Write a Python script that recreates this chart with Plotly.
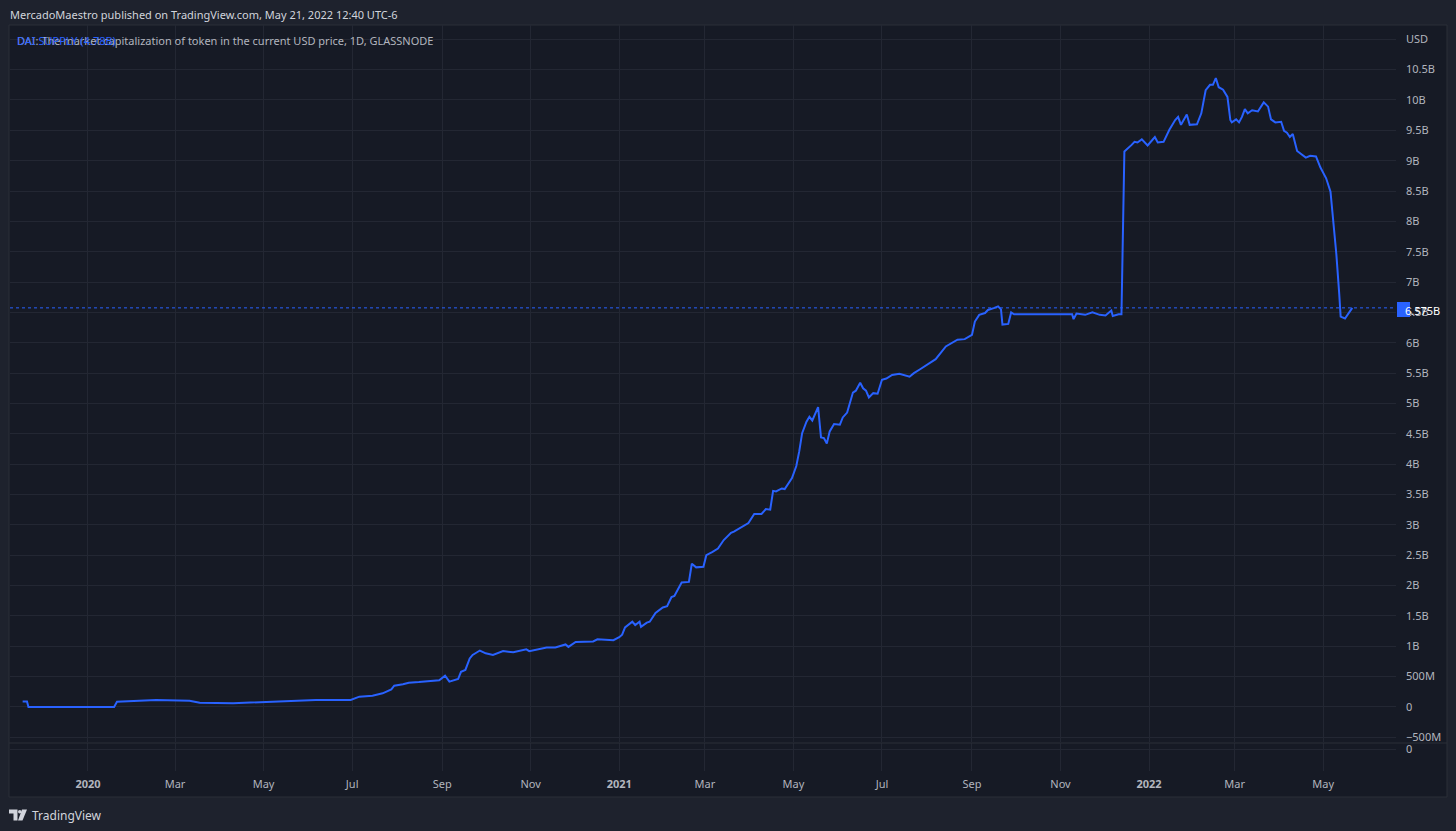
import plotly.graph_objects as go

# DAI supply, USD billions
dates = [
    "2019-11-17", "2019-11-20", "2019-11-21", "2020-01-19", "2020-01-21", "2020-02-01",
    "2020-02-17", "2020-03-11", "2020-03-18", "2020-04-10", "2020-05-03", "2020-06-06",
    "2020-06-30", "2020-07-04", "2020-07-06", "2020-07-15", "2020-07-22", "2020-07-28",
    "2020-07-30", "2020-08-05", "2020-08-09", "2020-08-16", "2020-08-30", "2020-09-03",
    "2020-09-06", "2020-09-12", "2020-09-14", "2020-09-17", "2020-09-20", "2020-09-22",
    "2020-09-27", "2020-10-01", "2020-10-06", "2020-10-13", "2020-10-20", "2020-10-29",
    "2020-10-31", "2020-11-12", "2020-11-18", "2020-11-25", "2020-11-27", "2020-12-02",
    "2020-12-14", "2020-12-17", "2020-12-28",
    "2021-01-01", "2021-01-03", "2021-01-05", "2021-01-10", "2021-01-12", "2021-01-15",
    "2021-01-16", "2021-01-20", "2021-01-22", "2021-01-26", "2021-01-31", "2021-02-03",
    "2021-02-06", "2021-02-08", "2021-02-13", "2021-02-18", "2021-02-20", "2021-02-23",
    "2021-02-28", "2021-03-02", "2021-03-06", "2021-03-10", "2021-03-14", "2021-03-19",
    "2021-03-21", "2021-03-31", "2021-04-04", "2021-04-09", "2021-04-12", "2021-04-15",
    "2021-04-17", "2021-04-19", "2021-04-23", "2021-04-25", "2021-04-30", "2021-05-03",
    "2021-05-05", "2021-05-07", "2021-05-10", "2021-05-12", "2021-05-14", "2021-05-18",
    "2021-05-20", "2021-05-22", "2021-05-24", "2021-05-26", "2021-05-29", "2021-06-02",
    "2021-06-04", "2021-06-07", "2021-06-11", "2021-06-13", "2021-06-16", "2021-06-18",
    "2021-06-20", "2021-06-22", "2021-06-25", "2021-06-28", "2021-07-01", "2021-07-04",
    "2021-07-08", "2021-07-13", "2021-07-20", "2021-07-23", "2021-07-27", "2021-08-02",
    "2021-08-07", "2021-08-14", "2021-08-17", "2021-08-22", "2021-08-27", "2021-09-01",
    "2021-09-03", "2021-09-06", "2021-09-10", "2021-09-12", "2021-09-16", "2021-09-19",
    "2021-09-21", "2021-09-22", "2021-09-26", "2021-09-28", "2021-09-30", "2021-10-15",
    "2021-11-09", "2021-11-10", "2021-11-12", "2021-11-18", "2021-11-23", "2021-11-28",
    "2021-12-02", "2021-12-06", "2021-12-07", "2021-12-11", "2021-12-13", "2021-12-15",
    "2021-12-17", "2021-12-20", "2021-12-22", "2021-12-24", "2021-12-27", "2021-12-31",
    "2022-01-05", "2022-01-07", "2022-01-11", "2022-01-15", "2022-01-19", "2022-01-21",
    "2022-01-23", "2022-01-27", "2022-01-29", "2022-02-03", "2022-02-06", "2022-02-09",
    "2022-02-12", "2022-02-14", "2022-02-16", "2022-02-18", "2022-02-21", "2022-02-24",
    "2022-02-26", "2022-02-27", "2022-03-02", "2022-03-04", "2022-03-06", "2022-03-08",
    "2022-03-10", "2022-03-13", "2022-03-17", "2022-03-21", "2022-03-24", "2022-03-26",
    "2022-03-29", "2022-04-02", "2022-04-04", "2022-04-06", "2022-04-08", "2022-04-10",
    "2022-04-13", "2022-04-17", "2022-04-19", "2022-04-22", "2022-04-26", "2022-04-29",
    "2022-05-03", "2022-05-06", "2022-05-10", "2022-05-12", "2022-05-13", "2022-05-16",
    "2022-05-18", "2022-05-21",
]
supply_b = [
    0.09, 0.09, 0.0, 0.0, 0.087, 0.10,
    0.115, 0.104, 0.071, 0.061, 0.087, 0.115,
    0.115, 0.16, 0.17, 0.186, 0.225, 0.29,
    0.35, 0.373, 0.40, 0.41, 0.44, 0.516,
    0.417, 0.46, 0.58, 0.61, 0.80, 0.857,
    0.93, 0.884, 0.857, 0.92, 0.90, 0.95,
    0.92, 0.98, 0.98, 1.03, 0.99, 1.07,
    1.08, 1.115, 1.10,
    1.15, 1.19, 1.31, 1.405, 1.35, 1.405,
    1.32, 1.39, 1.405, 1.55, 1.64, 1.66,
    1.81, 1.83, 2.05, 2.06, 2.36, 2.30,
    2.31, 2.50, 2.55, 2.61, 2.75, 2.87,
    2.89, 3.03, 3.18, 3.18, 3.26, 3.25,
    3.56, 3.55, 3.60, 3.59, 3.77, 3.97,
    4.21, 4.51, 4.70, 4.78, 4.72, 4.94,
    4.44, 4.43, 4.34, 4.54, 4.66, 4.65,
    4.77, 4.85, 5.18, 5.21, 5.34, 5.25,
    5.21, 5.10, 5.17, 5.16, 5.39, 5.41,
    5.47, 5.49, 5.44, 5.50, 5.56, 5.65,
    5.73, 5.94, 5.98, 6.05, 6.06, 6.13,
    6.35, 6.46, 6.49, 6.54, 6.57, 6.60,
    6.55, 6.30, 6.31, 6.50, 6.47, 6.47,
    6.47, 6.39, 6.48, 6.46, 6.50, 6.46,
    6.45, 6.53, 6.44, 6.47, 6.47, 9.15,
    9.19, 9.26, 9.31, 9.30, 9.35, 9.25,
    9.39, 9.30, 9.31, 9.51, 9.67, 9.72,
    9.59, 9.76, 9.59, 9.60, 9.78, 10.16,
    10.25, 10.25, 10.36, 10.21, 10.17, 10.05,
    9.67, 9.63, 9.68, 9.63, 9.72, 9.85,
    9.78, 9.83, 9.81, 9.96, 9.89, 9.68,
    9.63, 9.64, 9.49, 9.46, 9.39, 9.44,
    9.16, 9.09, 9.05, 9.08, 9.07, 8.89,
    8.71, 8.49, 7.47, 6.81, 6.43, 6.40,
    6.47, 6.575,
]
last_value = 6.575

x_tick_dates = ["2020-01-01", "2020-03-01", "2020-05-01", "2020-07-01", "2020-09-01", "2020-11-01",
                "2021-01-01", "2021-03-01", "2021-05-01", "2021-07-01", "2021-09-01", "2021-11-01",
                "2022-01-01", "2022-03-01", "2022-05-01"]
x_tick_text = ["<b>2020</b>", "Mar", "May", "Jul", "Sep", "Nov",
               "<b>2021</b>", "Mar", "May", "Jul", "Sep", "Nov",
               "<b>2022</b>", "Mar", "May"]
y_tick_b = [-0.5, 0, 0.5, 1, 1.5, 2, 2.5, 3, 3.5, 4, 4.5, 5, 5.5, 6, 6.5, 7, 7.5, 8, 8.5,
            9, 9.5, 10, 10.5, 11]
y_tick_text = ["\u2212500M", "0", "500M", "1B", "1.5B", "2B", "2.5B", "3B", "3.5B", "4B", "4.5B",
               "5B", "5.5B", "6B", "6.5B", "7B", "7.5B", "8B", "8.5B", "9B", "9.5B", "10B",
               "10.5B", "USD"]

W, H = 1456, 831
L, R, T, B = 10, 1396, 25, 771  # plot area in pixels


def px(x):
    return (x - L) / (R - L)


def py(y):
    return (B - y) / (B - T)


BLUE = "#2962ff"
GRID = "#232733"
TXT = "#b2b5be"
FONT = "Noto Sans"
FS = 11

fig = go.Figure()
fig.add_trace(go.Scatter(x=dates, y=[v * 1e9 for v in supply_b], mode="lines",
                         line=dict(color=BLUE, width=2), xaxis="x", yaxis="y",
                         showlegend=False, hoverinfo="skip"))
fig.add_trace(go.Scatter(x=[dates[0]], y=[None], mode="lines", xaxis="x", yaxis="y2",
                         showlegend=False, hoverinfo="skip"))

fig.update_layout(
    width=W, height=H,
    margin=dict(l=L, r=W - R, t=T, b=H - B, pad=0),
    paper_bgcolor="#1e222d",
    plot_bgcolor="#161a25",
    font=dict(family=FONT, size=FS, color=TXT),
    xaxis=dict(range=["2019-11-08 07:00", "2022-06-20 03:00"], tickvals=x_tick_dates,
               ticktext=x_tick_text, showgrid=True, gridcolor=GRID, gridwidth=1,
               zeroline=False, showline=False, anchor="y2", ticks="",
               ticklabelstandoff=5, tickfont=dict(size=FS, color=TXT)),
    yaxis=dict(domain=[py(742), 1], range=[-0.577e9, 11.235e9], side="right",
               tickvals=[v * 1e9 for v in y_tick_b], ticktext=y_tick_text,
               showgrid=True, gridcolor=GRID, zeroline=False, showline=False, ticks="",
               ticklabelstandoff=9, tickfont=dict(size=FS, color=TXT)),
    yaxis2=dict(domain=[0, py(743)], range=[-22, 6], side="right", tickvals=[0],
                ticktext=["0"], showgrid=True, gridcolor=GRID, zeroline=False,
                showline=False, ticks="", ticklabelstandoff=9,
                tickfont=dict(size=FS, color=TXT)),
)

shapes = [
    # chart frame
    dict(type="rect", xref="paper", yref="paper", x0=px(9), x1=px(1447), y0=py(797), y1=py(25),
         fillcolor="#161a25", line=dict(color="#2a2e39", width=1), layer="below"),
    # pane separator
    dict(type="line", xref="paper", yref="paper", x0=px(9), x1=px(1447), y0=py(743), y1=py(743),
         line=dict(color="#2a2e39", width=1)),
    # last price line
    dict(type="line", xref="paper", yref="y", x0=0, x1=1, y0=last_value * 1e9, y1=last_value * 1e9,
         line=dict(color=BLUE, width=1, dash="dot")),
    # last price box
    dict(type="rect", xref="paper", yref="paper", x0=px(1397), x1=px(1410), y0=py(317), y1=py(302),
         fillcolor=BLUE, line=dict(width=0)),
    # TradingView logo
    dict(type="path", xref="paper", yref="paper", fillcolor="#d1d4dc", line=dict(width=0),
         path="M {} {} L {} {} L {} {} L {} {} L {} {} L {} {} Z".format(
             px(9), py(809.5), px(17.5), py(809.5), px(17.5), py(820.5),
             px(13.5), py(820.5), px(13.5), py(813.5), px(9), py(813.5))),
    dict(type="circle", xref="paper", yref="paper", fillcolor="#d1d4dc", line=dict(width=0),
         x0=px(18), x1=px(21.5), y0=py(813.5), y1=py(810)),
    dict(type="path", xref="paper", yref="paper", fillcolor="#d1d4dc", line=dict(width=0),
         path="M {} {} L {} {} L {} {} L {} {} Z".format(
             px(22), py(809.5), px(27), py(809.5), px(22.5), py(820.5), px(18), py(820.5))),
]
fig.update_layout(shapes=shapes)


def note(x, y, text, color=TXT, size=FS, xanchor="left"):
    fig.add_annotation(xref="paper", yref="paper", x=px(x), y=py(y), text=text, showarrow=False,
                       xanchor=xanchor, yanchor="middle", font=dict(family=FONT, size=size, color=color))


note(8, 14, "MercadoMaestro published on TradingView.com, May 21, 2022 12:40 UTC-6", color="#d1d4dc")
note(15, 40, "DAI: The market capitalization of token in the current USD price, 1D, GLASSNODE",
     color=TXT)
note(15, 40, "DAI SUPPLY (4.78B)", color=BLUE)
note(1403, 310, "6.575B", color="#ffffff")
note(30, 815, "TradingView", color="#d1d4dc", size=12)

fig.write_html("out.html", config={"displayModeBar": False},
               post_script="document.body.style.margin='0';")
